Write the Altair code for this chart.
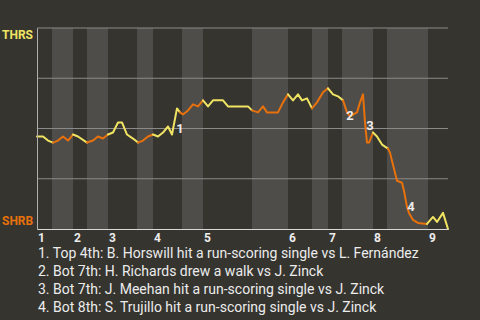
import altair as alt
import pandas as pd

# ---- data ----
# play position along the game (plot units 0..411) and THRS win probability (%)
play_x = [0, 6, 11, 16,
          21, 26, 31, 36,
          41, 50,
          56, 61, 66, 71,
          76, 81, 85, 90, 96, 101,
          106, 111, 116,
          121, 126, 131, 135, 140, 143,
          146, 151, 156, 161, 166,
          171, 176, 186, 191, 211, 215,
          221, 226, 230, 241, 246, 251,
          256, 261, 265, 270, 272, 275,
          280, 286, 291,
          296, 301, 306,
          310, 313, 320, 323, 326, 328, 330, 332, 336,
          340, 345, 348, 351,
          353, 356, 360, 365, 367, 370, 372, 376, 381, 390,
          396, 400, 406, 411]
play_v = [46, 46, 44, 43,
          44, 46, 44, 47,
          46, 43,
          44, 46, 45, 47,
          48, 53, 53, 47, 45, 43,
          44, 46, 47,
          46, 48, 51, 47, 60, 58,
          57, 59, 62, 61, 64,
          61, 64, 64, 61, 61, 59,
          58, 61, 58, 58, 63, 67,
          64, 67, 64, 65, 63, 60,
          63, 68, 70,
          67, 66, 64,
          58, 56, 58, 63, 67, 53, 43, 43, 48,
          46, 42, 41, 40,
          38, 32, 24, 23, 19, 11, 8, 4.5, 3, 2.5,
          6, 3.5, 8, 0]
points_per_half = [4, 4, 2, 4, 6, 3, 6, 5, 6, 6, 6, 3, 3, 9, 4, 10, 4]

# half-inning band edges (plot units)
half_edges = [0, 15, 36, 50, 71, 100, 116, 145, 166, 215, 251, 275, 291, 305, 336, 350, 391, 411]
inning_labels = ["1", "2", "3", "4", "5", "6", "7", "8", "9"]

grid_values = [25, 50, 75, 100]

marker_labels = ["1", "2", "3", "4"]
marker_x = [143, 313, 333, 374]
marker_v = [50, 56, 51, 11]

notes = [
    "1. Top 4th: B. Horswill hit a run-scoring single vs L. Fernández",
    "2. Bot 7th: H. Richards drew a walk vs J. Zinck",
    "3. Bot 7th: J. Meehan hit a run-scoring single vs J. Zinck",
    "4. Bot 8th: S. Trujillo hit a run-scoring single vs J. Zinck",
]

BG = "#35342f"
BAND = "#4e4d4a"
YELLOW = "#f0e462"
ORANGE = "#e8710c"
TEXT = "#ececec"
FONT = "Roboto"

# ---- tables ----
rows = []
idx = 0
prev = None
for g, n in enumerate(points_per_half):
    half = "top" if g % 2 == 0 else "bot"
    pts = list(range(idx, idx + n))
    if prev is not None:
        pts = [prev] + pts
    for order, k in enumerate(pts):
        rows.append({"seg": g, "half": half, "o": order, "x": play_x[k], "v": play_v[k]})
    idx += n
    prev = idx - 1
line_df = pd.DataFrame(rows)

bands = pd.DataFrame({
    "x": half_edges[:-1],
    "x2": half_edges[1:],
    "half": ["top" if i % 2 == 0 else "bot" for i in range(len(half_edges) - 1)],
})
bot_bands = bands[bands.half == "bot"]
inning_df = pd.DataFrame({"x": half_edges[:-1:2], "lab": inning_labels})
grid_df = pd.DataFrame({"v": grid_values})
marker_df = pd.DataFrame({"x": marker_x, "v": marker_v, "lab": marker_labels})

xs = alt.Scale(domain=[0, 411], nice=False, zero=False)
ys = alt.Scale(domain=[0, 100], nice=False)

band_layer = alt.Chart(bot_bands).mark_rect(color=BAND).encode(
    x=alt.X("x:Q", scale=xs, axis=alt.Axis(labels=False, ticks=False, grid=False, title=None,
                                           domainColor="#d8d8d8", zindex=1)),
    x2="x2:Q",
    y=alt.value(0),
    y2=alt.value(201),
)

grid_layer = alt.Chart(grid_df).mark_rule(color="#8a8a88", strokeWidth=1).encode(
    y=alt.Y("v:Q", scale=ys, axis=alt.Axis(labels=False, ticks=False, grid=False, title=None,
                                           domainColor="#b0b0ae", zindex=1)),
)

line_layer = alt.Chart(line_df).mark_line(strokeWidth=2, strokeJoin="round", strokeCap="round").encode(
    x=alt.X("x:Q", scale=xs),
    y=alt.Y("v:Q", scale=ys),
    detail="seg:N",
    order="o:Q",
    color=alt.Color("half:N", scale=alt.Scale(domain=["top", "bot"], range=[YELLOW, ORANGE]), legend=None),
)

marker_layer = alt.Chart(marker_df).mark_text(font=FONT, fontSize=13, fontWeight="bold", color=TEXT).encode(
    x=alt.X("x:Q", scale=xs), y=alt.Y("v:Q", scale=ys), text="lab:N"
)

inning_layer = alt.Chart(inning_df).mark_text(font=FONT, fontSize=12, fontWeight="bold", color=TEXT,
                                              align="left", baseline="middle", dx=1).encode(
    x=alt.X("x:Q", scale=xs), y=alt.value(210), text="lab:N"
)

team_df = pd.DataFrame({"lab": ["THRS", "SHRB"], "ypos": [7, 193], "team": ["top", "bot"]})
team_layer = alt.Chart(team_df).mark_text(font=FONT, fontSize=12, fontWeight="bold",
                                          align="left", baseline="middle").encode(
    x=alt.value(-35), y=alt.Y("ypos:Q", scale=None), text="lab:N",
    color=alt.Color("team:N", scale=alt.Scale(domain=["top", "bot"], range=[YELLOW, ORANGE]), legend=None),
)

notes_df = pd.DataFrame({"lab": notes, "ypos": [226, 244, 262, 280]})
notes_layer = alt.Chart(notes_df).mark_text(font=FONT, fontSize=14, color=TEXT,
                                            align="left", baseline="middle").encode(
    x=alt.value(1), y=alt.Y("ypos:Q", scale=None), text="lab:N"
)

chart = alt.layer(
    band_layer, grid_layer, line_layer, marker_layer, inning_layer, team_layer, notes_layer
).resolve_scale(color="independent").properties(
    width=411, height=201, background=BG,
    padding={"left": 37, "top": 28, "right": 32, "bottom": 91},
    autosize="none",
).configure_view(stroke=None)

chart.save("out.html", embed_options={"renderer": "svg", "actions": False})
